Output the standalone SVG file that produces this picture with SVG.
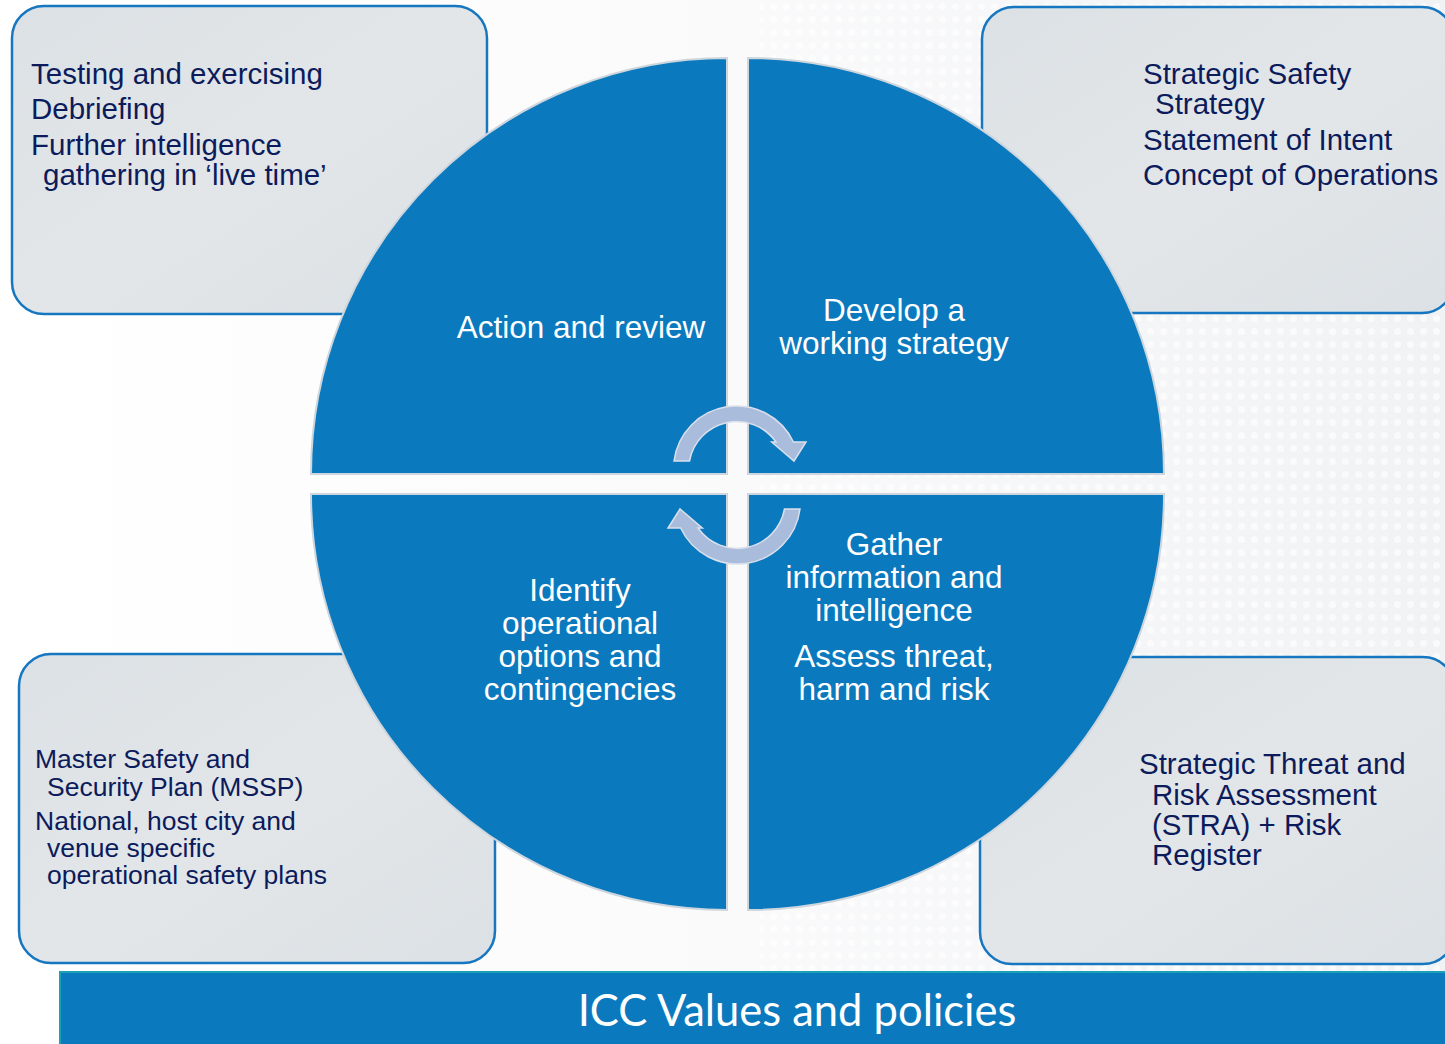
<svg xmlns="http://www.w3.org/2000/svg" width="1445" height="1044" viewBox="0 0 1445 1044">
<defs>
<linearGradient id="bg" x1="0" y1="0" x2="1" y2="0">
<stop offset="0" stop-color="#ffffff"/>
<stop offset="0.45" stop-color="#fbfbfc"/>
<stop offset="1" stop-color="#f1f2f4"/>
</linearGradient>
<linearGradient id="boxfill" x1="0" y1="0" x2="1" y2="1">
<stop offset="0" stop-color="#dce1e5"/>
<stop offset="0.5" stop-color="#e2e6e9"/>
<stop offset="1" stop-color="#dce1e5"/>
</linearGradient>
<pattern id="dots" width="13" height="13" patternUnits="userSpaceOnUse">
<circle cx="6.5" cy="6.5" r="3.5" fill="#ffffff"/>
</pattern>
<style>
.box{fill:url(#boxfill);stroke:#1677c0;stroke-width:2.5}
.sector{fill:#0a79be;stroke:#cdd5dd;stroke-width:2}
.btxt{font-family:"Liberation Sans",Arial,sans-serif;font-size:29.5px;fill:#0c1b5b}
.btxt2{font-family:"Liberation Sans",Arial,sans-serif;font-size:26.5px;fill:#0c1b5b}
.ctxt{font-family:"Liberation Sans",Arial,sans-serif;font-size:31.5px;fill:#ffffff;text-anchor:middle}
.arrow{fill:#a9bcdc;stroke:#d9e0eb;stroke-width:1.5}
</style>
</defs>
<rect x="0" y="0" width="1445" height="1044" fill="url(#bg)"/>
<rect x="760" y="0" width="685" height="1044" fill="url(#dots)" opacity="0.6"/>

<g id="box-tl">
<rect class="box" x="12" y="6" width="475" height="308" rx="32"/>
<text class="btxt" x="31" y="84">Testing and exercising</text>
<text class="btxt" x="31" y="119">Debriefing</text>
<text class="btxt" x="31" y="155">Further intelligence</text>
<text class="btxt" x="43" y="185">gathering in ‘live time’</text>
</g>
<g id="box-tr">
<rect class="box" x="982" y="7" width="472" height="306" rx="32"/>
<text class="btxt" x="1143" y="84">Strategic Safety</text>
<text class="btxt" x="1155" y="114">Strategy</text>
<text class="btxt" x="1143" y="150">Statement of Intent</text>
<text class="btxt" x="1143" y="185">Concept of Operations</text>
</g>
<g id="box-bl">
<rect class="box" x="19" y="654" width="476" height="309" rx="32"/>
<text class="btxt2" x="35" y="768">Master Safety and</text>
<text class="btxt2" x="47" y="796">Security Plan (MSSP)</text>
<text class="btxt2" x="35" y="830">National, host city and</text>
<text class="btxt2" x="47" y="857">venue specific</text>
<text class="btxt2" x="47" y="884">operational safety plans</text>
</g>
<g id="box-br">
<rect class="box" x="980" y="657" width="475" height="307" rx="32"/>
<text class="btxt" x="1139" y="774">Strategic Threat and</text>
<text class="btxt" x="1152" y="805">Risk Assessment</text>
<text class="btxt" x="1152" y="835">(STRA) + Risk</text>
<text class="btxt" x="1152" y="865">Register</text>
</g>

<g id="sector-action">
<path class="sector" d="M727,474 L311,474 A416,416 0 0 1 727,58 Z"/>
<text class="ctxt" x="581" y="338">Action and review</text>
</g>
<g id="sector-develop">
<path class="sector" d="M748,474 L748,58 A416,416 0 0 1 1164,474 Z"/>
<text class="ctxt" x="894" y="321">Develop a</text>
<text class="ctxt" x="894" y="354">working strategy</text>
</g>
<g id="sector-gather">
<path class="sector" d="M748,494 L1164,494 A416,416 0 0 1 748,910 Z"/>
<text class="ctxt" x="894" y="555">Gather</text>
<text class="ctxt" x="894" y="588">information and</text>
<text class="ctxt" x="894" y="621">intelligence</text>
<text class="ctxt" x="894" y="667">Assess threat,</text>
<text class="ctxt" x="894" y="700">harm and risk</text>
</g>
<g id="sector-identify">
<path class="sector" d="M727,494 L727,910 A416,416 0 0 1 311,494 Z"/>
<text class="ctxt" x="580" y="601">Identify</text>
<text class="ctxt" x="580" y="634">operational</text>
<text class="ctxt" x="580" y="667">options and</text>
<text class="ctxt" x="580" y="700">contingencies</text>
</g>

<g id="connectors">
<path class="arrow" d="M674,461 A63,63 0 0 1 793.4,442 L806,442 L794,461 L771.7,442 L776,442 A48,48 0 0 0 689.5,461 Z"/>
<path class="arrow" transform="rotate(180 737 485)" d="M674,461 A63,63 0 0 1 793.4,442 L806,442 L794,461 L771.7,442 L776,442 A48,48 0 0 0 689.5,461 Z"/>
</g>

<g id="bar">
<rect x="60" y="972" width="1395" height="80" fill="#0a79be" stroke="#1aa0b8" stroke-width="2"/>
<text x="797" y="1026" text-anchor="middle" font-family="Lato,'Open Sans',sans-serif" font-size="43.5" fill="#ffffff">ICC Values and policies</text>
</g>
</svg>
